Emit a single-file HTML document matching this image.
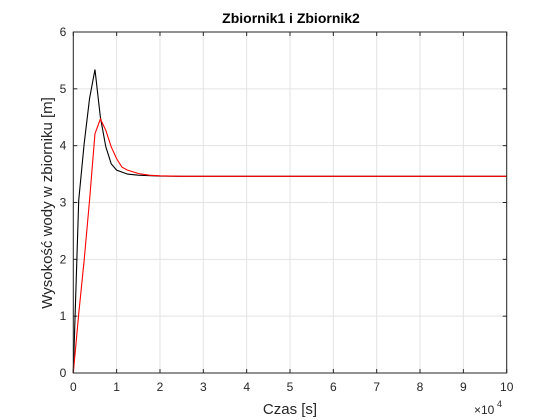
<!DOCTYPE html>
<html><head><meta charset="utf-8"><style>
html,body{margin:0;padding:0;background:#fff;}
svg{display:block;font-family:"Liberation Sans",Arial,sans-serif;}
</style></head><body>
<svg id="chart" width="560" height="420"></svg>
<script>
const xTicks=[0,1,2,3,4,5,6,7,8,9,10];
const yTicks=[0,1,2,3,4,5,6];
const timeBlack=[0,0.125,0.25,0.375,0.5,0.625,0.75,0.875,1.0,1.25,1.5,2,2.5,10];
const level1=[0,3.04,4.03,4.83,5.34,4.5,3.98,3.68,3.57,3.5,3.48,3.465,3.46,3.46];
const timeRed=[0,0.125,0.25,0.375,0.5,0.625,0.75,0.875,1.0,1.125,1.25,1.5,1.75,2,2.5,10];
const level2=[0,1.04,1.98,3.04,4.21,4.47,4.27,3.98,3.77,3.62,3.57,3.51,3.48,3.47,3.46,3.46];
const L=73.3,R=506.7,T=32,B=373;
const sx=v=>L+(v-0)/10*(R-L);
const sy=v=>B-(v/6)*(B-T);
const svg=document.getElementById('chart');
const NS='http://www.w3.org/2000/svg';
function mk(tag,attrs,parent){const e=document.createElementNS(NS,tag);for(const k in attrs)e.setAttribute(k,attrs[k]);(parent||svg).appendChild(e);return e;}
const bg=mk('rect',{x:L,y:T,width:R-L,height:B-T,fill:'#fff'});


xTicks.forEach(t=>{const x=sx(t);
 const g=mk('line',{x1:x,x2:x,y1:T,y2:B,stroke:'#e3e3e3','stroke-width':1});
 
 
 mk('line',{x1:x,x2:x,y1:B,y2:B-4,stroke:'#262626'});
 mk('line',{x1:x,x2:x,y1:T,y2:T+4,stroke:'#262626'});
 const tx=mk('text',{x:x,y:B+18,'text-anchor':'middle','font-size':12,fill:'#262626'});tx.textContent=t;
 
 
});
yTicks.forEach(t=>{const y=sy(t);
 const g=mk('line',{x1:L,x2:R,y1:y,y2:y,stroke:'#e3e3e3','stroke-width':1});
 
 
 mk('line',{x1:L,x2:L+4,y1:y,y2:y,stroke:'#262626'});
 mk('line',{x1:R,x2:R-4,y1:y,y2:y,stroke:'#262626'});
 const tx=mk('text',{x:L-7,y:y+4,'text-anchor':'end','font-size':12,fill:'#262626'});tx.textContent=t;
 
 
});
function series(xs,ys,color,name){
 const p=mk('polyline',{points:xs.map((x,i)=>sx(x)+','+sy(ys[i])).join(' '),fill:'none',stroke:color,'stroke-width':1.1});
 
 
}
series(timeBlack,level1,'#000','series-zbiornik1');
series(timeRed,level2,'#ff0000','series-zbiornik2');
const box=mk('rect',{x:L,y:T,width:R-L,height:B-T,fill:'none',stroke:'#262626','stroke-width':1});


const title=mk('text',{x:291,y:23,'text-anchor':'middle','font-size':14,'font-weight':'bold',fill:'#000'});title.textContent='Zbiornik1 i Zbiornik2';


const xl=mk('text',{x:290,y:414,'text-anchor':'middle','font-size':15,fill:'#262626'});xl.textContent='Czas [s]';


const yl=mk('text',{x:0,y:0,'text-anchor':'middle','font-size':15,fill:'#262626',transform:'translate(52,203) rotate(-90)'});yl.textContent='Wysokość wody w zbiorniku [m]';


const ex=mk('text',{x:474,y:414,'font-size':12,fill:'#262626'});ex.textContent='×10';


const ex2=mk('text',{x:497,y:407,'font-size':9,fill:'#262626'});ex2.textContent='4';


</script>
</body></html>
